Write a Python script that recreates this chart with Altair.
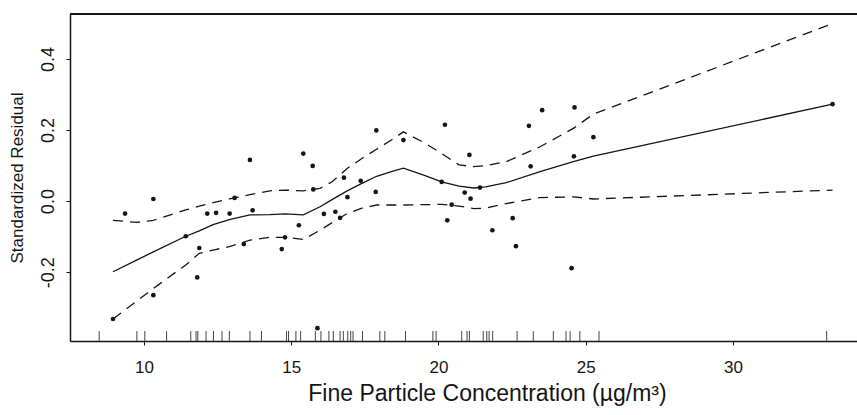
import altair as alt
import pandas as pd

# observed standardized residuals
pt_x = [8.95, 9.36, 10.32, 10.32, 11.42, 11.81, 11.88, 12.15, 12.45, 12.91, 13.08, 13.39, 13.60, 13.69,
        14.68, 14.79, 15.26, 15.41, 15.73, 15.75, 15.89, 16.11, 16.50, 16.66, 16.79, 16.91, 17.36, 17.87,
        17.89, 18.81, 20.11, 20.22, 20.30, 20.45, 20.89, 21.05, 21.09, 21.41, 21.83, 22.52, 22.63, 23.07,
        23.13, 23.52, 24.52, 24.60, 24.62, 25.26, 33.38]
pt_y = [-0.332, -0.035, 0.006, -0.265, -0.099, -0.215, -0.132, -0.035, -0.033, -0.035, 0.009, -0.121,
        0.116, -0.026, -0.135, -0.102, -0.068, 0.134, 0.099, 0.033, -0.358, -0.036, -0.030, -0.047,
        0.066, 0.011, 0.057, 0.026, 0.199, 0.172, 0.054, 0.215, -0.054, -0.010, 0.024, 0.130, 0.007,
        0.038, -0.082, -0.048, -0.127, 0.212, 0.098, 0.256, -0.189, 0.126, 0.264, 0.180, 0.273]

# smooth fit and confidence band
fit_x = [8.95, 9.75, 10.32, 11.42, 11.88, 12.35, 12.9, 13.6, 14.28, 14.8, 15.41, 15.98, 16.4, 16.9,
         17.4, 17.9, 18.4, 18.81, 19.5, 20.11, 20.7, 21.2, 21.6, 22.3, 23.45, 24.58, 25.26, 33.38]
fit_y = [-0.199, -0.166, -0.143, -0.099, -0.084, -0.066, -0.052, -0.039, -0.038, -0.036, -0.039, -0.016,
         0.005, 0.029, 0.050, 0.070, 0.083, 0.093, 0.073, 0.054, 0.042, 0.037, 0.040, 0.052, 0.083,
         0.111, 0.127, 0.273]
upper_y = [-0.054, -0.060, -0.054, -0.025, -0.014, -0.004, 0.006, 0.018, 0.029, 0.031, 0.029, 0.036,
           0.055, 0.092, 0.120, 0.146, 0.172, 0.195, 0.165, 0.134, 0.102, 0.097, 0.100, 0.111, 0.153,
           0.205, 0.245, 0.500]
lower_y = [-0.332, -0.282, -0.246, -0.180, -0.147, -0.138, -0.128, -0.110, -0.102, -0.102, -0.108, -0.082,
           -0.060, -0.035, -0.020, -0.011, -0.011, -0.011, -0.010, -0.009, -0.014, -0.021, -0.020, -0.007,
           0.010, 0.012, 0.006, 0.031]

# rug of concentrations
rug_x = [8.48, 9.76, 10.03, 10.77, 11.59, 11.77, 11.83, 12.11, 12.36, 12.65, 12.90, 13.60, 13.99, 14.84,
         14.91, 15.16, 15.32, 15.82, 16.01, 16.28, 16.43, 16.66, 16.77, 16.92, 17.02, 17.10, 17.42, 18.01,
         18.18, 18.88, 19.81, 19.92, 20.79, 20.97, 21.05, 21.52, 21.64, 21.72, 21.84, 22.67, 23.22, 23.90,
         24.33, 24.47, 24.80, 25.45, 33.18]

x_ticks = [10, 15, 20, 25, 30]
y_ticks = [-0.2, 0.0, 0.2, 0.4]

W, H = 787, 327
FONT = "Liberation Sans"
INK = "#151515"

pts = pd.DataFrame({"x": pt_x, "y": pt_y})
fit = pd.DataFrame({"x": fit_x, "y": fit_y})
band = pd.concat([
    pd.DataFrame({"x": fit_x, "y": upper_y, "s": "upper"}),
    pd.DataFrame({"x": fit_x, "y": lower_y, "s": "lower"}),
])
rug = pd.DataFrame({"x": rug_x})

xs = alt.Scale(domain=[7.49, 34.21], nice=False, zero=False)
ys = alt.Scale(domain=[-0.394, 0.527], nice=False, zero=False)

x_axis = alt.Axis(
    values=x_ticks, grid=False, tickSize=4, tickColor=INK, domainColor=INK, domainWidth=1.5,
    labelFont=FONT, labelFontSize=17, labelColor=INK, labelBaseline="alphabetic", labelPadding=27,
    title="Fine Particle Concentration (µg/m³)", titleFont=FONT, titleFontSize=23,
    titleFontWeight="normal", titleColor=INK, titleX=417, titleY=59, titleBaseline="alphabetic",
    titleAlign="center",
)
y_axis = alt.Axis(
    values=y_ticks, grid=False, tickSize=4, tickColor=INK, domainColor=INK, domainWidth=1.5,
    labelFont=FONT, labelFontSize=18, labelColor=INK, labelAngle=270, labelAlign="center",
    labelBaseline="alphabetic", labelPadding=13,
    labelExpr="replace(format(datum.value, '.1f'), '\u2212', '-')",
    title="Standardized Residual", titleFont=FONT, titleFontSize=17, titleFontWeight="normal",
    titleColor=INK, titleAngle=270, titleX=-48, titleY=H / 2, titleAlign="center",
    titleBaseline="alphabetic",
)

points = alt.Chart(pts).mark_circle(size=22, color=INK, opacity=1).encode(
    x=alt.X("x:Q", scale=xs, axis=x_axis),
    y=alt.Y("y:Q", scale=ys, axis=y_axis),
)
fit_line = alt.Chart(fit).mark_line(color=INK, strokeWidth=1.3, interpolate="linear").encode(
    x=alt.X("x:Q", scale=xs), y=alt.Y("y:Q", scale=ys)
)
band_lines = alt.Chart(band).mark_line(
    color=INK, strokeWidth=1.3, strokeDash=[10, 7], interpolate="linear"
).encode(x=alt.X("x:Q", scale=xs), y=alt.Y("y:Q", scale=ys), detail="s:N")
rug_marks = alt.Chart(rug).mark_rule(color="#444444", strokeWidth=1).encode(
    x=alt.X("x:Q", scale=xs), y=alt.value(H - 10), y2=alt.value(H)
)
top_border = alt.Chart(pd.DataFrame({"a": [0]})).mark_rule(color=INK, strokeWidth=2).encode(
    x=alt.value(0), x2=alt.value(W), y=alt.value(0)
)

chart = (
    alt.layer(top_border, rug_marks, band_lines, fit_line, points)
    .properties(width=W, height=H, autosize=alt.AutoSizeParams(type="none"),
                padding={"left": 70, "top": 14, "right": 0, "bottom": 74})
    .configure_view(strokeWidth=0)
    .configure(background="white")
)

chart.save("out.html", embed_options={"renderer": "svg", "actions": False})
